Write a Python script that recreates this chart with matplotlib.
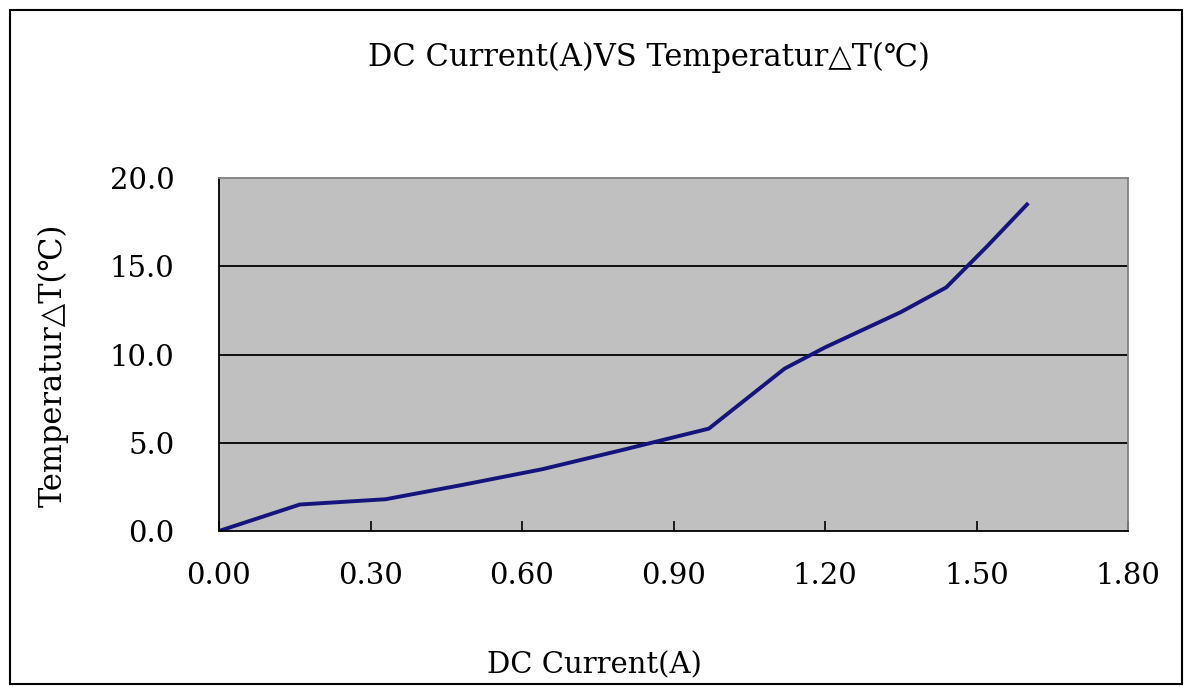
import matplotlib.pyplot as plt
from matplotlib.patches import Rectangle

# data
current = [0.00, 0.16, 0.33, 0.48, 0.64, 0.80, 0.97, 1.12, 1.20, 1.35, 1.44, 1.52, 1.60]
delta_t = [0.0, 1.5, 1.8, 2.6, 3.5, 4.6, 5.8, 9.2, 10.4, 12.4, 13.8, 16.1, 18.5]
x_ticks = [0.0, 0.3, 0.6, 0.9, 1.2, 1.5, 1.8]
y_ticks = [0.0, 5.0, 10.0, 15.0, 20.0]

title = "DC Current(A)VS Temperatur△T(℃)"
x_label = "DC Current(A)"
y_label = "Temperatur△T(℃)"

plt.rcParams['font.family'] = ['DejaVu Serif', 'DejaVu Sans', 'Noto Sans CJK SC']

W, H = 1186, 687
fig = plt.figure(figsize=(W / 100, H / 100), dpi=100)

# outer chart frame
fig.patches.append(Rectangle((10 / W, 1 - 684 / H), 1172 / W, 674 / H,
                             transform=fig.transFigure, fill=False,
                             edgecolor='black', linewidth=1.5))

left, right, top, bottom = 219, 1128, 178, 531
ax = fig.add_axes([left / W, 1 - bottom / H, (right - left) / W, (bottom - top) / H])
ax.set_facecolor('#C0C0C0')

ax.plot(current, delta_t, color='#14147c', linewidth=2.8, solid_joinstyle='round')

ax.set_xlim(0, 1.8)
ax.set_ylim(0, 20)
ax.set_xticks(x_ticks)
ax.set_yticks(y_ticks)
ax.set_xticklabels([f"{v:.2f}" for v in x_ticks])
ax.set_yticklabels([f"{v:.1f}" for v in y_ticks])
ax.tick_params(axis='x', direction='in', length=7, width=1.2, pad=22, labelsize=21)
ax.tick_params(axis='y', length=0, pad=32, labelsize=21)

for y in y_ticks[1:-1]:
    ax.axhline(y, color='black', linewidth=1.3, zorder=1)

for s in ['left', 'bottom']:
    ax.spines[s].set_color('black')
    ax.spines[s].set_linewidth(1.3)
for s in ['top', 'right']:
    ax.spines[s].set_color('#808080')
    ax.spines[s].set_linewidth(1.3)

fig.text(649 / W, 1 - 57 / H, title, ha='center', va='center', fontsize=22)
fig.text(594 / W, 1 - 665 / H, x_label, ha='center', va='center', fontsize=21)
fig.text(53 / W, 1 - 365 / H, y_label, ha='center', va='center', fontsize=22, rotation=90)

fig.savefig("out.png", dpi=100)
